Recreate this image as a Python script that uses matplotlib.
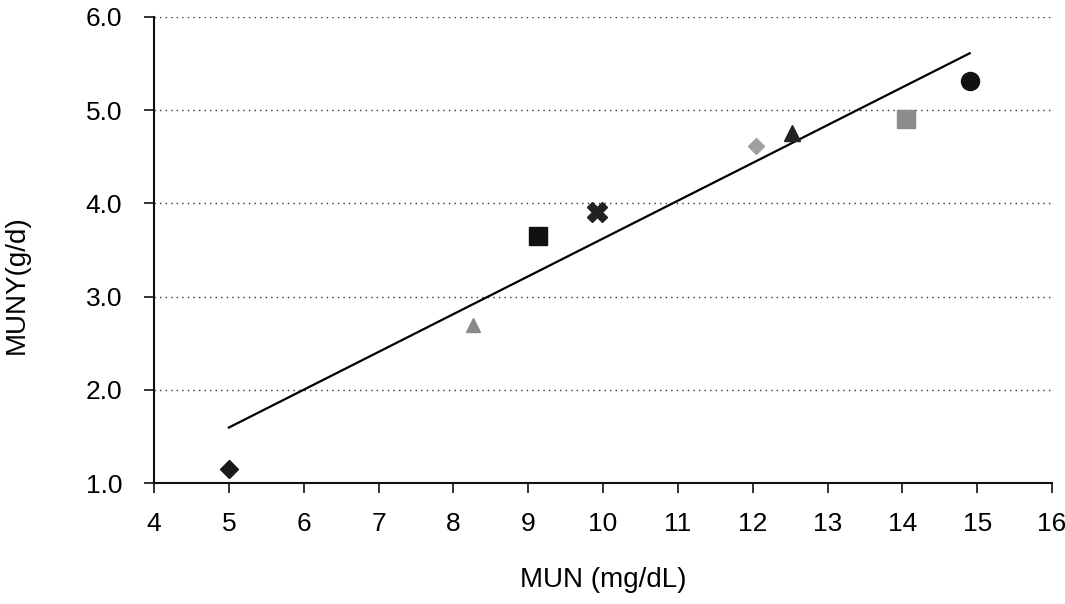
import numpy as np
import matplotlib
matplotlib.use("Agg")
import matplotlib.pyplot as plt
from matplotlib.ticker import FormatStrFormatter

plt.rcParams['font.family'] = ['Liberation Sans', 'DejaVu Sans']

# data
mun = [5.0, 8.26, 9.13, 9.92, 12.05, 12.53, 14.05, 14.90]
muny = [1.15, 2.70, 3.65, 3.91, 4.62, 4.76, 4.91, 5.31]
markers = ['D', '^', 's', 'X', 'D', '^', 's', 'o']
sizes = [9, 10, 13, 15, 8, 12, 13, 13]
colors = ['#1a1a1a', '#8a8a8a', '#111111', '#222222', '#a0a0a0', '#222222', '#8c8c8c', '#111111']

# trend line as drawn in the reference
trend_slope = 0.4056
trend_intercept = -0.433
trend_range = [5.0, 14.9]

fig = plt.figure(figsize=(10.65, 6.04), dpi=100)
ax = fig.add_axes([0.1446, 0.2003, 0.8432, 0.7716])

for x, y, m, s, c in zip(mun, muny, markers, sizes, colors):
    ax.plot(x, y, marker=m, markersize=s, color=c, linestyle='none', zorder=3)

xl = np.array(trend_range)
ax.plot(xl, trend_slope * xl + trend_intercept, color='black', linewidth=1.6, zorder=2)

ax.set_xlim(4, 16)
ax.set_ylim(1.0, 6.0)
ax.set_xticks(range(4, 17))
ax.set_yticks([1.0, 2.0, 3.0, 4.0, 5.0, 6.0])
ax.yaxis.set_major_formatter(FormatStrFormatter('%.1f'))

ax.grid(axis='y', linestyle=(0, (1, 3)), color='#333333', linewidth=1.0)
ax.set_axisbelow(True)
for side in ['top', 'right']:
    ax.spines[side].set_visible(False)
for side in ['left', 'bottom']:
    ax.spines[side].set_linewidth(1.5)
    ax.spines[side].set_color('#111111')

ax.tick_params(axis='both', direction='out', length=7, width=1.2, labelsize=19, color='#111111')
ax.tick_params(axis='x', pad=14)
ax.tick_params(axis='y', pad=16)

ax.set_xlabel('MUN (mg/dL)', fontsize=20, labelpad=22)
ax.set_ylabel('MUNY(g/d)', fontsize=20)
ax.yaxis.set_label_coords(-0.138, 0.425)

fig.savefig('out.png', dpi=100)
